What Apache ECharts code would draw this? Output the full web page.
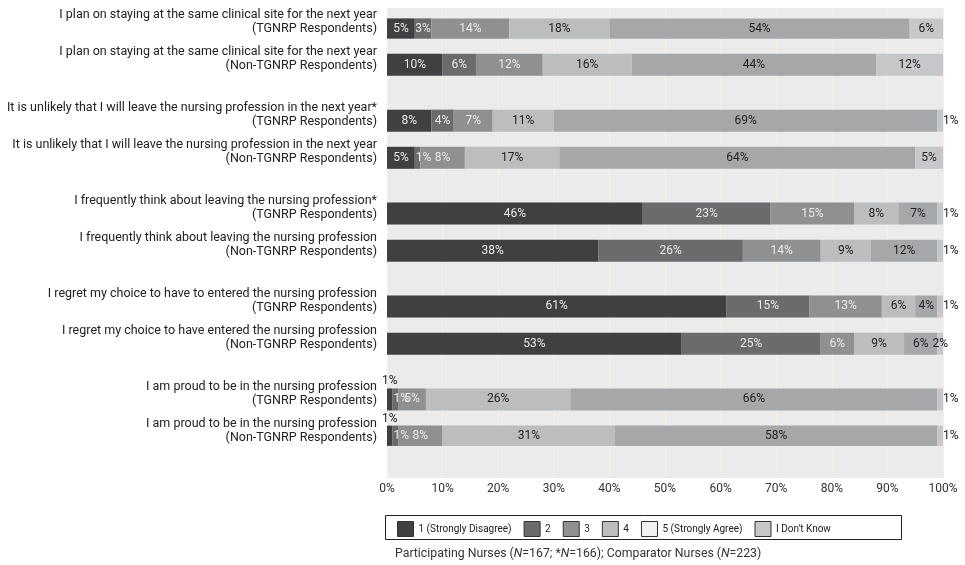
<!DOCTYPE html>
<html>
<head>
<meta charset="utf-8">
<script src="https://cdn.jsdelivr.net/npm/echarts@6/dist/echarts.min.js"></script>
<style>
  html, body { margin: 0; padding: 0; background: #fff; }
  #main { width: 965px; height: 565px; }
</style>
</head>
<body>
<div id="main"></div>
<script type="text/javascript">
    // survey statements, top to bottom
    var statements = [
        'I plan on staying at the same clinical site for the next year\n(TGNRP Respondents)',
        'I plan on staying at the same clinical site for the next year\n(Non-TGNRP Respondents)',
        'It is unlikely that I will leave the nursing profession in the next year*\n(TGNRP Respondents)',
        'It is unlikely that I will leave the nursing profession in the next year\n(Non-TGNRP Respondents)',
        'I frequently think about leaving the nursing profession*\n(TGNRP Respondents)',
        'I frequently think about leaving the nursing profession\n(Non-TGNRP Respondents)',
        'I regret my choice to have to entered the nursing profession\n(TGNRP Respondents)',
        'I regret my choice to have entered the nursing profession\n(Non-TGNRP Respondents)',
        'I am proud to be in the nursing profession\n(TGNRP Respondents)',
        'I am proud to be in the nursing profession\n(Non-TGNRP Respondents)'
    ];

    var seriesNames = ['1 (Strongly Disagree)', '2', '3', '4', '5 (Strongly Agree)', "I Don't Know"];

    var strongDisagree = [5, 10, 8, 5, 46, 38, 61, 53, 1, 1];
    var disagree       = [3, 6, 4, 1, 23, 26, 15, 25, 1, 1];
    var neutral        = [14, 12, 7, 8, 15, 14, 13, 6, 5, 8];
    var agree          = [18, 16, 11, 17, 8, 9, 6, 9, 26, 31];
    var strongAgree    = [54, 44, 69, 64, 7, 12, 4, 6, 66, 58];
    var dontKnow       = [6, 12, 1, 5, 1, 1, 1, 2, 1, 1];

    var values = [strongDisagree, disagree, neutral, agree, strongAgree, dontKnow];
    var colors = ['#404042', '#6b6b6e', '#8f9092', '#bcbdbf', '#a6a7a9', '#c6c7c9'];

    // categories with blank spacer slots: 1 inside a pair, 2 between pairs
    var cats = [], rowIndex = [];
    statements.forEach(function (s, i) {
        if (i > 0) {
            var n = (i % 2 === 1) ? 1 : 2;
            for (var k = 0; k < n; k++) cats.push('_' + i + '_' + k);
        }
        rowIndex.push(cats.length);
        cats.push(s);
    });

    function buildData(si) {
        var out = cats.map(function () { return '-'; });
        values[si].forEach(function (v, r) {
            var item = { value: v };
            if (v <= 1 && si === 0) {
                item.label = { position: 'top', distance: 1, color: '#222' };
            } else if (v <= 1 && si === 1) {
                item.label = { position: 'insideLeft', distance: 1 };
            } else if (v <= 1 && si === 5) {
                item.label = { position: 'right', distance: 0 };
            }
            out[rowIndex[r]] = item;
        });
        return out;
    }

    var series = seriesNames.map(function (name, si) {
        return {
            name: name,
            type: 'bar',
            stack: 'total',
            xAxisIndex: 1,
            yAxisIndex: 1,
            barWidth: 22,
            itemStyle: { color: colors[si] },
            label: {
                show: true,
                position: 'inside',
                formatter: '{c}%',
                fontFamily: 'Roboto',
                fontSize: 12,
                color: si < 3 ? '#e8e8e8' : '#222'
            },
            data: buildData(si)
        };
    });

    var legendData = seriesNames.map(function (n, i) {
        return i === 4 ? { name: n, itemStyle: { color: '#f2f2f2' } } : { name: n };
    });

    var myChart = echarts.init(document.getElementById('main'));
    myChart.setOption({
        animation: false,
        grid: [
            { left: 387, right: 22, top: 8, height: 470, show: true, backgroundColor: '#ebebeb', borderWidth: 0, outerBoundsMode: 'none' },
            { left: 387, right: 22, top: 18.4, height: 427.5, outerBoundsMode: 'none' }
        ],
        xAxis: [{
            gridIndex: 0,
            type: 'value',
            min: 0,
            max: 100,
            interval: 10,
            axisLine: { show: false },
            axisTick: { show: false },
            splitLine: { show: true, lineStyle: { color: '#f6f0e4', width: 1 } },
            axisLabel: { formatter: '{value}%', margin: 5, fontFamily: 'Roboto', fontSize: 12, color: '#333' }
        }, {
            gridIndex: 1,
            type: 'value',
            min: 0,
            max: 100,
            show: false
        }],
        yAxis: [{
            gridIndex: 0,
            type: 'value',
            show: false
        }, {
            gridIndex: 1,
            type: 'category',
            inverse: true,
            data: cats,
            axisLine: { show: false },
            axisTick: { show: false },
            axisLabel: {
                margin: 10,
                interval: 0,
                verticalAlign: 'middle',
                formatter: function (v) {
                    if (v.charAt(0) === '_') return '';
                    var lines = v.split('\n');
                    return '{a|' + lines[0] + '}\n{a|' + lines[1] + '}\n{s| }';
                },
                rich: {
                    a: { fontFamily: 'Roboto', fontSize: 12.5, color: '#222', lineHeight: 14 },
                    s: { fontSize: 8, lineHeight: 11 }
                }
            }
        }],
        legend: {
            data: legendData,
            left: 397,
            top: 521,
            padding: 0,
            itemWidth: 16,
            itemHeight: 15,
            itemGap: 12,
            icon: 'rect',
            selectedMode: false,
            itemStyle: { borderColor: '#333', borderWidth: 1 },
            textStyle: { fontFamily: 'Roboto', fontSize: 10, color: '#222' }
        },
        graphic: [{
            type: 'rect',
            z: -1,
            shape: { x: 385.5, y: 515.5, width: 516, height: 24 },
            style: { fill: '#fff', stroke: '#222', lineWidth: 1 }
        }, {
            type: 'text',
            left: 395,
            top: 548,
            style: {
                text: 'Participating Nurses ({i|N}=167; *{i|N}=166); Comparator Nurses ({i|N}=223)',
                font: '12.3px Roboto',
                fill: '#333',
                rich: { i: { fontStyle: 'italic', fontFamily: 'Roboto', fontSize: 12.3 } }
            }
        }],
        series: series
    });
</script>
</body>
</html>
